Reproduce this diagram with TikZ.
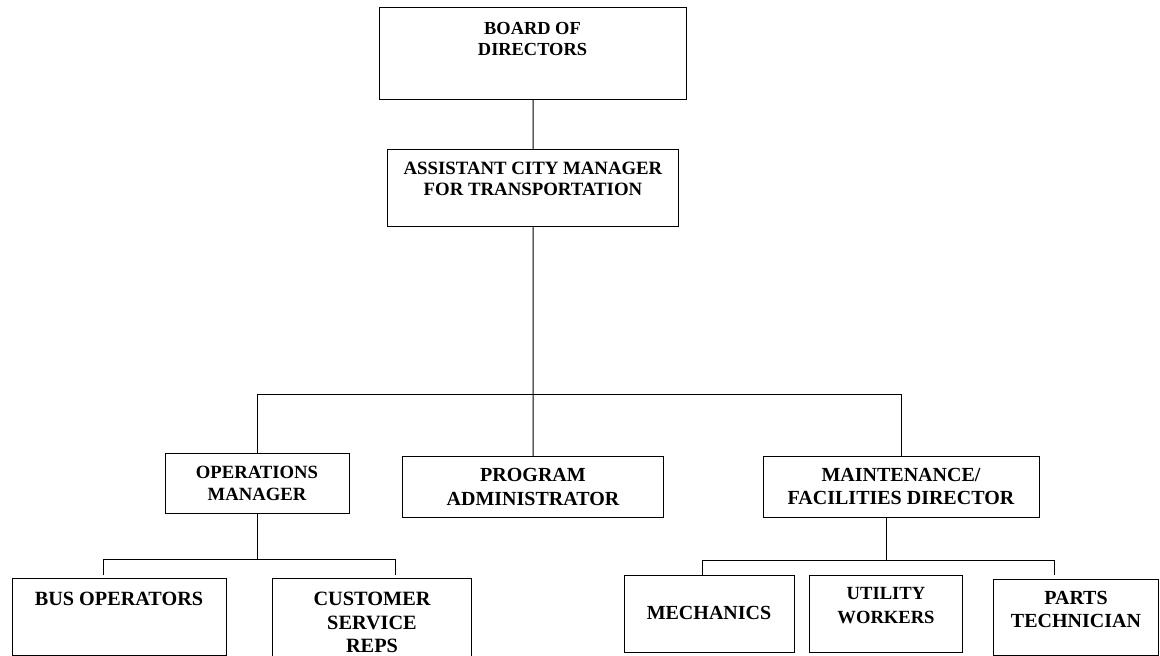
\documentclass[tikz,border=0pt]{standalone}
\usepackage{fontspec}
\setmainfont{Liberation Serif}
\newcommand\fsz[2]{\fontsize{#1bp}{#2bp}\selectfont}
\begin{document}
\begin{tikzpicture}[x=1bp,y=-1bp,
  box/.style={draw, line width=1.1bp, inner sep=0, anchor=north west},
  lbl/.style={inner sep=0, anchor=north, align=center},
  conn/.style={line width=1bp}]
\useasboundingbox (0,0) rectangle (1160,656);
% boxes
\node[box, minimum width=307bp, minimum height=92bp] (board) at (379,7) {};
\node[box, minimum width=291bp, minimum height=77bp] (acm) at (387,149) {};
\node[box, minimum width=184bp, minimum height=60bp] (ops) at (165,453) {};
\node[box, minimum width=261bp, minimum height=61bp] (prog) at (402,456) {};
\node[box, minimum width=276bp, minimum height=61bp] (maint) at (763,456) {};
\node[box, minimum width=214bp, minimum height=77bp] (bus) at (12,578) {};
\node[box, minimum width=199bp, minimum height=90bp] (cust) at (272,578) {};
\node[box, minimum width=170bp, minimum height=77bp] (mech) at (624,575) {};
\node[box, minimum width=153bp, minimum height=77bp] (util) at (809,575) {};
\node[box, minimum width=165bp, minimum height=76bp] (parts) at (993,579) {};
% labels
\node[lbl, font=\bfseries\fsz{18.4}{21}] (boardT) at (532.5,22) {BOARD OF\\DIRECTORS};
\node[lbl, font=\bfseries\fsz{18.8}{20.5}] (acmT) at (533,162) {ASSISTANT CITY MANAGER\\FOR TRANSPORTATION};
\node[lbl, font=\bfseries\fsz{18.7}{22}] (opsT) at (257,466) {OPERATIONS\\MANAGER};
\node[lbl, font=\bfseries\fsz{20}{24}] (progT) at (533,468) {PROGRAM\\ADMINISTRATOR};
\node[lbl, font=\bfseries\fsz{20}{23}] (maintT) at (901,468) {MAINTENANCE/\\FACILITIES DIRECTOR};
\node[lbl, font=\bfseries\fsz{20.2}{23}] (busT) at (119,592) {BUS OPERATORS};
\node[lbl, font=\bfseries\fsz{20.3}{23.5}] (custT) at (372,592) {CUSTOMER\\SERVICE\\REPS};
\node[lbl, font=\bfseries\fsz{20}{23}] (mechT) at (709,606) {MECHANICS};
\node[lbl, font=\bfseries\fsz{18.6}{24}] (utilT) at (886,587) {UTILITY\\WORKERS};
\node[lbl, font=\bfseries\fsz{20}{23}] (partsT) at (1076,591) {PARTS\\TECHNICIAN};
% connector coordinates
\coordinate (bar1) at (533,394);
\coordinate (bar2L) at (103,559);
\coordinate (bar2R) at (395,559);
\coordinate (drop2L) at (103,575);
\coordinate (drop2R) at (395,575);
\coordinate (stem3) at (886,560);
\coordinate (bar3L) at (702,560);
\coordinate (bar3R) at (1054,560);
\coordinate (drop3R) at (1054,575);
% connectors
\draw[conn] (board.south) -- (acm.north);
\draw[conn] (acm.south) -- (prog.north);
\draw[conn] (ops.north) -- (ops.north |- bar1) -- (maint.north |- bar1) -- (maint.north);
\draw[conn] (ops.south) -- (ops.south |- bar2L);
\draw[conn] (drop2L) -- (bar2L) -- (bar2R) -- (drop2R);
\draw[conn] (maint.south -| stem3) -- (stem3);
\draw[conn] (bar3L |- mech.north) -- (bar3L) -- (bar3R) -- (drop3R);
\end{tikzpicture}
\end{document}
